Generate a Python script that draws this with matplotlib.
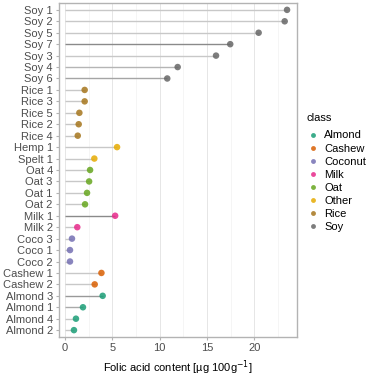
import matplotlib.pyplot as plt
from matplotlib.lines import Line2D

plt.rcParams["font.family"] = ["Liberation Sans", "DejaVu Sans"]

# data, top row first
labels = ["Soy 1", "Soy 2", "Soy 5", "Soy 7", "Soy 3", "Soy 4", "Soy 6",
          "Rice 1", "Rice 3", "Rice 5", "Rice 2", "Rice 4",
          "Hemp 1", "Spelt 1",
          "Oat 4", "Oat 3", "Oat 1", "Oat 2",
          "Milk 1", "Milk 2",
          "Coco 3", "Coco 1", "Coco 2",
          "Cashew 1", "Cashew 2",
          "Almond 3", "Almond 1", "Almond 4", "Almond 2"]
values = [23.45, 23.2, 20.45, 17.45, 15.95, 11.9, 10.8,
          2.08, 2.08, 1.52, 1.45, 1.35,
          5.5, 3.1,
          2.65, 2.55, 2.33, 2.12,
          5.3, 1.3,
          0.74, 0.53, 0.53,
          3.85, 3.14,
          3.98, 1.9, 1.16, 0.95]
classes = ["Soy"] * 7 + ["Rice"] * 5 + ["Other"] * 2 + ["Oat"] * 4 + \
          ["Milk"] * 2 + ["Coconut"] * 3 + ["Cashew"] * 2 + ["Almond"] * 4
class_order = ["Almond", "Cashew", "Coconut", "Milk", "Oat", "Other", "Rice", "Soy"]
xticks = [0, 5, 10, 15, 20]

palette = {
    "Almond": "#1B9E77", "Cashew": "#D95F02", "Coconut": "#7570B3",
    "Milk": "#E7298A", "Oat": "#66A61E", "Other": "#E6AB02",
    "Rice": "#A6761D", "Soy": "#666666",
}
dark_stems = {"Soy 7": "#8a8a8a", "Milk 1": "#8a8a8a", "Almond 3": "#999999",
              "Soy 6": "#a5a5a5", "Soy 4": "#b5b5b5", "Almond 1": "#aaaaaa"}
FS = 8.0


def main():
    fig = plt.figure(figsize=(3.77, 3.79), dpi=100)
    ax = fig.add_axes([59 / 377, 42 / 379, 238 / 377, 334 / 379])

    n = len(labels)
    ys = [n - 1 - i for i in range(n)]

    for y, v, lab, cls in zip(ys, values, labels, classes):
        ax.plot([0, v], [y, y], color=dark_stems.get(lab, "#c8c8c8"),
                lw=1.0, zorder=2, solid_capstyle="butt")
        ax.scatter(v, y, s=22, color=palette[cls], alpha=0.85,
                   edgecolors="none", zorder=3)

    ax.set_xlim(-0.63, 24.5)
    ax.set_ylim(-0.6, n - 1 + 0.6)
    ax.set_yticks(ys)
    ax.set_yticklabels(labels)
    ax.set_xticks(xticks)
    ax.set_xticks([2.5, 7.5, 12.5, 17.5, 22.5], minor=True)

    ax.grid(axis="x", which="major", color="#e6e6e6", lw=0.7, zorder=0)
    ax.grid(axis="x", which="minor", color="#f2f2f2", lw=0.5, zorder=0)
    ax.set_axisbelow(True)

    for s in ax.spines.values():
        s.set_color("#b3b3b3")
        s.set_linewidth(1.0)

    ax.tick_params(axis="both", which="major", colors="#b3b3b3", length=2.5,
                   width=0.8, labelsize=FS, labelcolor="#4d4d4d", pad=2)
    ax.tick_params(axis="x", which="minor", length=0)

    ax.set_xlabel("Folic acid content [µg 100g$^{-1}$]", fontsize=FS,
                  color="black", labelpad=4)

    handles = [Line2D([], [], marker="o", ls="none", markersize=3.5,
                      markerfacecolor=palette[c], markeredgecolor="none",
                      alpha=0.85, label=c) for c in class_order]
    leg = fig.legend(handles=handles, title="class", loc="upper left",
                     bbox_to_anchor=(302 / 377, 1 - 109 / 379), frameon=False,
                     fontsize=FS, title_fontsize=FS, handletextpad=0.4,
                     labelspacing=0.28, handlelength=1.2, borderaxespad=0,
                     alignment="left")
    leg._legend_box.sep = 5

    fig.savefig("out.png", dpi=100)
    plt.close(fig)


if __name__ == "__main__":
    main()
